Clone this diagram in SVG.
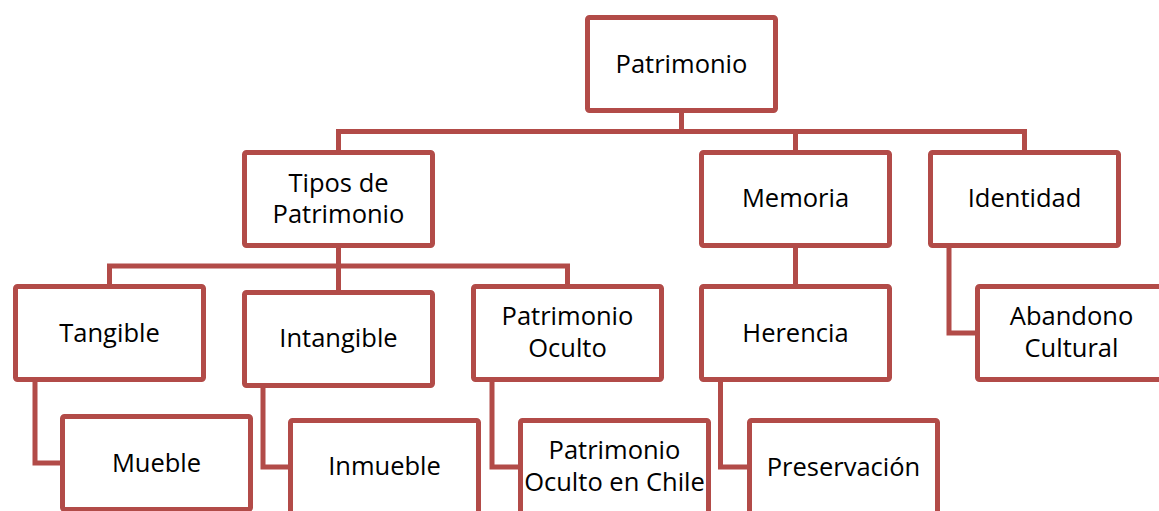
<svg xmlns="http://www.w3.org/2000/svg" width="1159" height="511" viewBox="0 0 1159 511">
  <style>
    .box { fill: #ffffff; stroke: #b24b48; stroke-width: 5; }
    .link { fill: none; stroke: #b24b48; stroke-width: 5; stroke-linejoin: miter; }
    .lbl { font-family: "Open Sans", "Liberation Sans", sans-serif; font-size: 25.5px; fill: #000000; text-anchor: middle; }
  </style>
  <rect x="0" y="0" width="1159" height="511" fill="#ffffff"/>

  <g id="connectors">
    <!-- Patrimonio to its three children -->
    <polyline class="link" points="681.5,113 681.5,131.5"/>
    <polyline class="link" points="338.5,150 338.5,131.5 1024.5,131.5 1024.5,150"/>
    <polyline class="link" points="795.5,131.5 795.5,150"/>
    <!-- Tipos de Patrimonio to its three children -->
    <polyline class="link" points="338.5,248 338.5,290"/>
    <polyline class="link" points="109.5,284 109.5,266 567.5,266 567.5,284"/>
    <!-- Memoria to Herencia -->
    <polyline class="link" points="795.5,248 795.5,284"/>
    <!-- Elbow links to the lower level -->
    <polyline class="link" points="949,248 949,333 975,333"/>
    <polyline class="link" points="35,382 35,463 60,463"/>
    <polyline class="link" points="263,388 263,467 288,467"/>
    <polyline class="link" points="492,382 492,467 518,467"/>
    <polyline class="link" points="720.5,382 720.5,467 747,467"/>
  </g>

  <g id="patrimonio">
    <rect class="box" x="587.5" y="17.5" width="188" height="93" rx="2"/>
    <text class="lbl" x="681.5" y="73">Patrimonio</text>
  </g>

  <g id="tipos">
    <rect class="box" x="244.5" y="152.5" width="188" height="93" rx="2"/>
    <text class="lbl" x="338.5" y="192">Tipos de</text>
    <text class="lbl" x="338.5" y="223">Patrimonio</text>
  </g>

  <g id="memoria">
    <rect class="box" x="701.5" y="152.5" width="188" height="93" rx="2"/>
    <text class="lbl" x="795.5" y="207">Memoria</text>
  </g>

  <g id="identidad">
    <rect class="box" x="930.5" y="152.5" width="188" height="93" rx="2"/>
    <text class="lbl" x="1024.5" y="207">Identidad</text>
  </g>

  <g id="tangible">
    <rect class="box" x="15.5" y="286.5" width="188" height="93" rx="2"/>
    <text class="lbl" x="109.5" y="342">Tangible</text>
  </g>

  <g id="intangible">
    <rect class="box" x="244.5" y="292.5" width="188" height="93" rx="2"/>
    <text class="lbl" x="338.5" y="347">Intangible</text>
  </g>

  <g id="patrimonio-oculto">
    <rect class="box" x="473.5" y="286.5" width="188" height="93" rx="2"/>
    <text class="lbl" x="567.5" y="325">Patrimonio</text>
    <text class="lbl" x="567.5" y="357">Oculto</text>
  </g>

  <g id="herencia">
    <rect class="box" x="701.5" y="286.5" width="188" height="93" rx="2"/>
    <text class="lbl" x="795.5" y="342">Herencia</text>
  </g>

  <g id="abandono-cultural">
    <rect class="box" x="977.5" y="286.5" width="188" height="93" rx="2"/>
    <text class="lbl" x="1071.5" y="325">Abandono</text>
    <text class="lbl" x="1071.5" y="357">Cultural</text>
  </g>

  <g id="mueble">
    <rect class="box" x="62.5" y="416.5" width="188" height="93" rx="2"/>
    <text class="lbl" x="156.5" y="472">Mueble</text>
  </g>

  <g id="inmueble">
    <rect class="box" x="290.5" y="420.5" width="188" height="93" rx="2"/>
    <text class="lbl" x="384.5" y="475">Inmueble</text>
  </g>

  <g id="patrimonio-oculto-chile">
    <rect class="box" x="520.5" y="420.5" width="188" height="93" rx="2"/>
    <text class="lbl" x="614.5" y="459">Patrimonio</text>
    <text class="lbl" x="614.5" y="491">Oculto en Chile</text>
  </g>

  <g id="preservacion">
    <rect class="box" x="749.5" y="420.5" width="188" height="93" rx="2"/>
    <text class="lbl" x="843.5" y="476">Preservación</text>
  </g>
</svg>
